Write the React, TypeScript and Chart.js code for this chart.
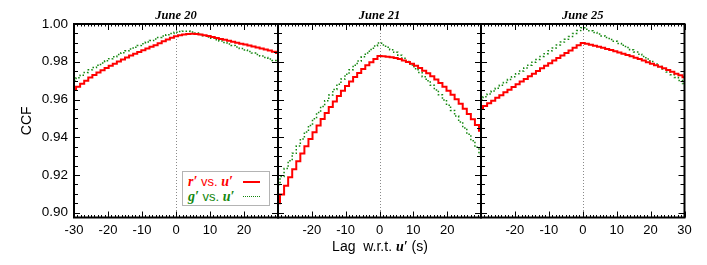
import React, { useEffect, useRef } from 'react';
import { Chart, registerables } from 'chart.js';

Chart.register(...registerables);

// ---------- data ----------
const lags = [
  -30, -28.8, -27.6, -26.4, -25.2, -24, -22.8, -21.6, -20.4, -19.2, -18, -16.8, -15.6,
  -14.4, -13.2, -12, -10.8, -9.6, -8.4, -7.2, -6, -4.8, -3.6, -2.4, -1.2, 0,
  1.2, 2.4, 3.6, 4.8, 6, 7.2, 8.4, 9.6, 10.8, 12, 13.2, 14.4, 15.6, 16.8, 18,
  19.2, 20.4, 21.6, 22.8, 24, 25.2, 26.4, 27.6, 28.8, 30,
];

const june20Red = [
  0.9650, 0.9667, 0.9684, 0.9700, 0.9716, 0.9730, 0.9743, 0.9755, 0.9767, 0.9779,
  0.9790, 0.9801, 0.9812, 0.9823, 0.9833, 0.9843, 0.9852, 0.9861, 0.9870, 0.9879,
  0.9888, 0.9898, 0.9908, 0.9918, 0.9927, 0.9935,
  0.9941, 0.9945, 0.9947, 0.9948, 0.9947, 0.9944, 0.9940, 0.9936, 0.9931, 0.9926,
  0.9921, 0.9916, 0.9911, 0.9906, 0.9901, 0.9896, 0.9891, 0.9886, 0.9881, 0.9876,
  0.9870, 0.9865, 0.9859, 0.9853, 0.9847,
];
const june20Green = [
  0.9700, 0.9715, 0.9729, 0.9743, 0.9757, 0.9769, 0.9781, 0.9793, 0.9805, 0.9816,
  0.9827, 0.9838, 0.9848, 0.9858, 0.9868, 0.9877, 0.9886, 0.9895, 0.9904, 0.9912,
  0.9920, 0.9928, 0.9936, 0.9943, 0.9950, 0.9956,
  0.9960, 0.9962, 0.9962, 0.9958, 0.9952, 0.9945, 0.9938, 0.9931, 0.9924, 0.9917,
  0.9910, 0.9902, 0.9894, 0.9886, 0.9878, 0.9870, 0.9862, 0.9854, 0.9846, 0.9838,
  0.9830, 0.9822, 0.9814, 0.9806, 0.9798,
];
const june21Red = [
  0.9050, 0.9097, 0.9143, 0.9188, 0.9231, 0.9273, 0.9314, 0.9353, 0.9391, 0.9427,
  0.9463, 0.9497, 0.9529, 0.9560, 0.9590, 0.9619, 0.9646, 0.9672, 0.9696, 0.9719,
  0.9741, 0.9762, 0.9781, 0.9798, 0.9815, 0.9830,
  0.9829, 0.9827, 0.9824, 0.9820, 0.9814, 0.9807, 0.9799, 0.9789, 0.9779, 0.9767,
  0.9753, 0.9739, 0.9723, 0.9706, 0.9687, 0.9668, 0.9647, 0.9625, 0.9601, 0.9577,
  0.9551, 0.9523, 0.9495, 0.9465, 0.9434,
];
const june21Green = [
  0.9149, 0.9192, 0.9234, 0.9275, 0.9315, 0.9354, 0.9391, 0.9428, 0.9463, 0.9498,
  0.9531, 0.9563, 0.9594, 0.9624, 0.9653, 0.9681, 0.9708, 0.9734, 0.9758, 0.9782,
  0.9804, 0.9826, 0.9846, 0.9865, 0.9883, 0.9900,
  0.9889, 0.9877, 0.9864, 0.9850, 0.9835, 0.9818, 0.9801, 0.9783, 0.9763, 0.9743,
  0.9721, 0.9699, 0.9675, 0.9651, 0.9625, 0.9598, 0.9570, 0.9542, 0.9512, 0.9481,
  0.9449, 0.9416, 0.9382, 0.9347, 0.9310,
];
const june25Red = [
  0.9550, 0.9565, 0.9580, 0.9594, 0.9609, 0.9623, 0.9638, 0.9652, 0.9666, 0.9681,
  0.9695, 0.9709, 0.9723, 0.9737, 0.9751, 0.9765, 0.9779, 0.9792, 0.9806, 0.9820,
  0.9833, 0.9847, 0.9860, 0.9874, 0.9887, 0.9900,
  0.9895, 0.9890, 0.9885, 0.9879, 0.9874, 0.9868, 0.9862, 0.9856, 0.9849, 0.9843,
  0.9836, 0.9829, 0.9821, 0.9814, 0.9806, 0.9798, 0.9790, 0.9782, 0.9774, 0.9765,
  0.9756, 0.9747, 0.9737, 0.9728, 0.9718,
];
const june25Green = [
  0.9599, 0.9614, 0.9629, 0.9645, 0.9660, 0.9675, 0.9690, 0.9706, 0.9721, 0.9736,
  0.9751, 0.9767, 0.9782, 0.9797, 0.9812, 0.9828, 0.9843, 0.9858, 0.9873, 0.9889,
  0.9904, 0.9919, 0.9934, 0.9950, 0.9965, 0.9980,
  0.9972, 0.9964, 0.9955, 0.9947, 0.9937, 0.9928, 0.9918, 0.9908, 0.9897, 0.9887,
  0.9875, 0.9864, 0.9852, 0.9840, 0.9828, 0.9815, 0.9802, 0.9788, 0.9775, 0.9761,
  0.9746, 0.9731, 0.9716, 0.9701, 0.9685,
];

const panelTitles = ['June 20', 'June 21', 'June 25'];
const redSeries = [june20Red, june21Red, june25Red];
const greenSeries = [june20Green, june21Green, june25Green];
const yTickLabels = [0.9, 0.92, 0.94, 0.96, 0.98, 1.0];
const xTickLabels = [
  [-30, -20, -10, 0, 10, 20],
  [-20, -10, 0, 10, 20],
  [-20, -10, 0, 10, 20, 30],
];

// ---------- style / layout ----------
const X_MIN = -30;
const X_MAX = 30;
const Y_MIN = 0.8975;
const Y_MAX = 1.0;
const PANEL_LEFT = [74, 278, 481];
const PANEL_RIGHT = [278, 481, 684.5];
const W = 707;
const H = 265;
const RED = '#ff0000';
const GREEN = '#13870f';
const SANS = '"Liberation Sans", Arial, Helvetica, sans-serif';
const SERIF = '"Liberation Serif", "Times New Roman", serif';

const framePlugin = {
  id: 'idlFrame',
  beforeDatasetsDraw(chart: any) {
    const { ctx, chartArea: a, scales } = chart;
    const x0 = Math.round(scales.x.getPixelForValue(0)) + 0.5;
    ctx.save();
    ctx.strokeStyle = '#8a8a8a';
    ctx.lineWidth = 1;
    ctx.setLineDash([1, 2]);
    ctx.beginPath();
    ctx.moveTo(x0, a.top);
    ctx.lineTo(x0, a.bottom);
    ctx.stroke();
    ctx.restore();
  },
  afterDraw(chart: any) {
    const { ctx, chartArea: a, scales } = chart;
    const xs = scales.x;
    const ys = scales.y;
    ctx.save();
    ctx.strokeStyle = '#000';
    ctx.lineWidth = 1;
    ctx.beginPath();
    for (let v = X_MIN; v <= X_MAX + 1e-9; v += 1) {
      const major = Math.abs(v % 10) < 1e-9;
      const len = major ? 6 : 2.5;
      const px = Math.round(xs.getPixelForValue(v)) + 0.5;
      ctx.moveTo(px, a.bottom);
      ctx.lineTo(px, a.bottom - len);
      ctx.moveTo(px, a.top);
      ctx.lineTo(px, a.top + len);
    }
    for (let k = 0; k <= 20; k++) {
      const v = 0.9 + k * 0.005;
      if (v > Y_MAX + 1e-9) break;
      const major = k % 4 === 0;
      const len = major ? 6 : 4;
      const py = Math.round(ys.getPixelForValue(v)) + 0.5;
      ctx.moveTo(a.left, py);
      ctx.lineTo(a.left + len, py);
      ctx.moveTo(a.right, py);
      ctx.lineTo(a.right - len, py);
    }
    ctx.stroke();
    ctx.lineWidth = 2;
    ctx.strokeRect(a.left, a.top, a.right - a.left, a.bottom - a.top);
    ctx.restore();
  },
};

function makeConfig(i: number): any {
  const first = i === 0;
  return {
    type: 'line',
    data: {
      datasets: [
        {
          label: "r' vs. u'",
          data: lags.map((l, k) => ({ x: l, y: redSeries[i][k] })),
          borderColor: RED,
          borderWidth: 2,
          stepped: 'middle',
          pointRadius: 0,
          fill: false,
          order: 0,
        },
        {
          label: "g' vs. u'",
          data: lags.map((l, k) => ({ x: l, y: greenSeries[i][k] })),
          borderColor: GREEN,
          borderWidth: 1.5,
          borderDash: [1.5, 2],
          stepped: 'middle',
          pointRadius: 0,
          fill: false,
          order: 1,
        },
      ],
    },
    options: {
      responsive: false,
      animation: false,
      events: [],
      layout: {
        padding: {
          left: first ? 0 : PANEL_LEFT[i],
          right: W - PANEL_RIGHT[i],
          top: 0,
          bottom: 0,
        },
      },
      plugins: {
        legend: { display: false },
        tooltip: { enabled: false },
        title: {
          display: true,
          text: panelTitles[i],
          fullSize: false,
          color: '#000',
          font: { family: SERIF, size: 12.5, style: 'italic', weight: 'bold', lineHeight: 1.2 },
          padding: { top: 8.5, bottom: 0.5 },
        },
      },
      scales: {
        x: {
          type: 'linear',
          min: X_MIN,
          max: X_MAX,
          grid: { display: false, drawTicks: false },
          border: { display: false },
          afterBuildTicks: (s: any) => {
            s.ticks = xTickLabels[i].map((v) => ({ value: v }));
          },
          afterFit: (s: any) => {
            s.height = 47.5;
          },
          ticks: {
            autoSkip: false,
            maxRotation: 0,
            padding: 5,
            color: '#000',
            font: { family: SANS, size: 13 },
            callback: (v: any) => String(v),
          },
        },
        y: {
          type: 'linear',
          display: first,
          min: Y_MIN,
          max: Y_MAX,
          grid: { display: false, drawTicks: false },
          border: { display: false },
          afterBuildTicks: (s: any) => {
            s.ticks = yTickLabels.map((v) => ({ value: v }));
          },
          afterFit: (s: any) => {
            s.width = first ? PANEL_LEFT[0] : 0;
          },
          ticks: {
            padding: 6,
            color: '#000',
            font: { family: SANS, size: 13.5 },
            callback: (v: any) => Number(v).toFixed(2),
          },
          title: {
            display: true,
            text: 'CCF',
            color: '#000',
            font: { family: SANS, size: 14 },
            padding: { top: 19, bottom: 0 },
          },
        },
      },
    },
    plugins: [framePlugin],
  };
}

const boldItalic: React.CSSProperties = {
  fontFamily: SERIF,
  fontStyle: 'italic',
  fontWeight: 'bold',
  fontSize: 14,
};

export default function App() {
  const r0 = useRef<HTMLCanvasElement>(null);
  const r1 = useRef<HTMLCanvasElement>(null);
  const r2 = useRef<HTMLCanvasElement>(null);

  useEffect(() => {
    const canvases = [r0.current, r1.current, r2.current];
    const charts = canvases.map((c, i) => new Chart(c as HTMLCanvasElement, makeConfig(i)));
    return () => charts.forEach((c) => c.destroy());
  }, []);

  const canvasStyle: React.CSSProperties = {
    position: 'absolute',
    left: 0,
    top: 0,
    width: W,
    height: H,
  };

  return (
    <div style={{ position: 'absolute', left: 0, top: 0, width: W, height: H, background: '#fff', overflow: 'hidden' }}>
      <canvas ref={r0} width={W} height={H} style={canvasStyle} />
      <canvas ref={r1} width={W} height={H} style={canvasStyle} />
      <canvas ref={r2} width={W} height={H} style={canvasStyle} />
      {/* legend */}
      <div
        style={{
          position: 'absolute',
          left: 182,
          top: 171,
          width: 86,
          height: 33,
          border: '1px solid #b4b4b4',
          background: '#fff',
          fontFamily: SANS,
          fontSize: 13,
        }}
      >
        <div style={{ position: 'absolute', left: 5, top: 2, lineHeight: '15px', color: RED, whiteSpace: 'pre' }}>
          <span style={boldItalic}>r′</span> vs. <span style={boldItalic}>u′</span>
        </div>
        <div style={{ position: 'absolute', left: 60, top: 9, width: 17, borderTop: `2px solid ${RED}` }} />
        <div style={{ position: 'absolute', left: 5, top: 17, lineHeight: '15px', color: GREEN, whiteSpace: 'pre' }}>
          <span style={boldItalic}>g′</span> vs. <span style={boldItalic}>u′</span>
        </div>
        <div style={{ position: 'absolute', left: 60, top: 24, width: 17, borderTop: `1.5px dotted ${GREEN}` }} />
      </div>
      {/* x axis title */}
      <div
        style={{
          position: 'absolute',
          left: 279,
          top: 238,
          width: 202,
          textAlign: 'center',
          fontFamily: SANS,
          fontSize: 14,
          lineHeight: '17px',
          color: '#000',
          whiteSpace: 'pre',
        }}
      >
        Lag  w.r.t. <span style={boldItalic}>u′</span> (s)
      </div>
    </div>
  );
}
